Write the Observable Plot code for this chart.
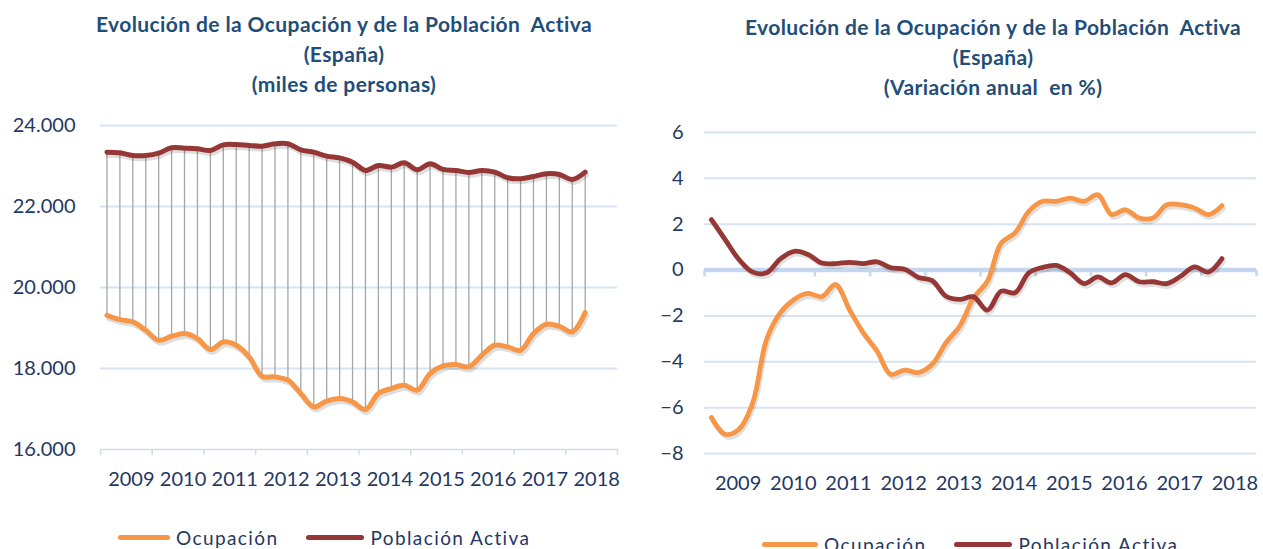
<!DOCTYPE html>
<html>
<head>
<meta charset="utf-8">
<script src="https://cdn.jsdelivr.net/npm/d3@7"></script>
<script src="https://cdn.jsdelivr.net/npm/@observablehq/plot@0.6"></script>
<style>
  html, body { margin: 0; padding: 0; background: #fff; }
  body { width: 1263px; height: 549px; position: relative; overflow: hidden; font-family: Lato, "Open Sans", sans-serif; }
  .title { position: absolute; text-align: center; color: #1f4e79; font-weight: bold; font-size: 21px; letter-spacing: 0.4px; line-height: 30px; white-space: nowrap; }
  .plot { position: absolute; }
  .legend { position: absolute; display: flex; align-items: center; color: #1f3864; font-size: 19px; letter-spacing: 1.4px; white-space: nowrap; }
  .sw { display: inline-block; height: 5px; border-radius: 3px; margin-right: 6px; }
</style>
</head>
<body>
<div class="title" id="t1" style="left:44px;width:600px;top:9px;"></div>
<div class="title" id="t2" style="left:693px;width:600px;top:12px;"></div>
<div class="plot" id="p1" style="left:0;top:100px;"></div>
<div class="plot" id="p2" style="left:640px;top:100px;"></div>
<div class="legend" id="l1" style="left:118px;top:526px;"></div>
<div class="legend" id="l2" style="left:762px;top:533px;"></div>
<script>
// ---- Data (quarterly, 2009T1 .. 2018T2) ----
const quarters = [
  "2009T1","2009T2","2009T3","2009T4","2010T1","2010T2","2010T3","2010T4",
  "2011T1","2011T2","2011T3","2011T4","2012T1","2012T2","2012T3","2012T4",
  "2013T1","2013T2","2013T3","2013T4","2014T1","2014T2","2014T3","2014T4",
  "2015T1","2015T2","2015T3","2015T4","2016T1","2016T2","2016T3","2016T4",
  "2017T1","2017T2","2017T3","2017T4","2018T1","2018T2"
];
// miles de personas
const ocupacionMiles = [
  19313,19207,19150,18944,18697,18796,18862,18738,
  18467,18656,18574,18286,17809,17793,17711,17382,
  17053,17193,17258,17176,16987,17382,17505,17587,
  17464,17875,18064,18097,18040,18328,18574,18533,
  18450,18862,19092,19042,18902,19380
];
const activaMiles = [
  23342,23325,23260,23260,23318,23450,23440,23425,
  23383,23523,23530,23507,23490,23548,23548,23400,
  23342,23243,23200,23095,22890,23013,22972,23080,
  22907,23055,22915,22890,22840,22890,22850,22710,
  22685,22742,22808,22790,22668,22850
];
// variación anual en %
const ocupacionVar = [
  -6.43,-7.16,-6.94,-5.78,-3.02,-1.86,-1.28,-1.02,
  -1.16,-0.63,-1.72,-2.73,-3.53,-4.55,-4.36,-4.47,
  -4.11,-3.17,-2.44,-1.21,-0.49,1.18,1.62,2.56,
  3.00,3.00,3.14,3.00,3.29,2.42,2.63,2.27,
  2.27,2.85,2.85,2.71,2.42,2.81
];
const activaVar = [
  2.20,1.33,0.46,-0.09,-0.12,0.49,0.82,0.68,
  0.31,0.28,0.34,0.28,0.36,0.10,0.04,-0.32,
  -0.46,-1.14,-1.28,-1.17,-1.75,-0.92,-0.99,-0.12,
  0.12,0.20,-0.12,-0.59,-0.30,-0.56,-0.20,-0.51,
  -0.51,-0.59,-0.27,0.14,-0.09,0.50
];
const yearLabels = ["2009","2010","2011","2012","2013","2014","2015","2016","2017","2018"];
const leftYTicks = [16000, 18000, 20000, 22000, 24000];
const rightYTicks = [-8, -6, -4, -2, 0, 2, 4, 6];
const seriesNames = ["Ocupación", "Población Activa"];
const titleLeft = ["Evolución de la Ocupación y de la Población&nbsp; Activa", "(España)", "(miles de personas)"];
const titleRight = ["Evolución de la Ocupación y de la Población&nbsp; Activa", "(España)", "(Variación anual&nbsp; en %)"];

// ---- Styles ----
const ORANGE = "#f79646";
const DARKRED = "#953735";
const GRID = "#d7e3f1";
const TEXT = "#1f3864";

// position of a quarter on a continuous year axis (category centre)
const qx = q => +q.slice(0, 4) + (+q.slice(5) - 0.5) / 4;
const rowsL = quarters.map((q, i) => ({x: qx(q), ocup: ocupacionMiles[i], act: activaMiles[i]}));
const rowsR = quarters.map((q, i) => ({x: qx(q), ocup: ocupacionVar[i], act: activaVar[i]}));
const bounds = d3.range(+yearLabels[0], +yearLabels[yearLabels.length - 1] + 2);
const mids = yearLabels.map(y => +y + 0.5);
const fmtMiles = d => d3.format(",")(d).replace(/,/g, ".");

document.getElementById("t1").innerHTML = titleLeft.join("<br>");
document.getElementById("t2").innerHTML = titleRight.join("<br>");

const font = "Lato, 'Open Sans', sans-serif";

// ---- Left chart ----
const left = Plot.plot({
  width: 640, height: 400,
  marginLeft: 100, marginRight: 23, marginTop: 25, marginBottom: 51,
  style: {fontFamily: font, fontSize: "20px", color: TEXT, background: "transparent", overflow: "visible"},
  x: {domain: [bounds[0], bounds[bounds.length - 1]]},
  y: {domain: [leftYTicks[0], leftYTicks[leftYTicks.length - 1]]},
  marks: [
    Plot.gridY(leftYTicks.slice(1), {stroke: GRID, strokeOpacity: 1, strokeWidth: 2}),
    Plot.ruleY([leftYTicks[0]], {stroke: "#d3dbe6", strokeWidth: 1.5}),
    Plot.axisX(bounds, {tickSize: 6, tickFormat: () => "", label: null, stroke: "#d3dbe6", strokeWidth: 1.5}),
    Plot.axisX(mids, {tickSize: 0, tickPadding: 22, label: null, dx: 5, tickFormat: d => String(Math.floor(d)), fontSize: 20, fill: TEXT}),
    Plot.axisY(leftYTicks, {tickSize: 0, tickPadding: 25, label: null, tickFormat: fmtMiles, fontSize: 20, fill: TEXT}),
    Plot.ruleX(rowsL, {x: "x", y1: "ocup", y2: "act", stroke: "#a6a6a6", strokeWidth: 1.3}),
    Plot.line(rowsL, {x: "x", y: "ocup", curve: "catmull-rom", stroke: "#000", strokeOpacity: 0.13, strokeWidth: 5, dx: 1.5, dy: 3}),
    Plot.line(rowsL, {x: "x", y: "act", curve: "catmull-rom", stroke: "#000", strokeOpacity: 0.13, strokeWidth: 5, dx: 1.5, dy: 3}),
    Plot.line(rowsL, {x: "x", y: "ocup", curve: "catmull-rom", stroke: ORANGE, strokeWidth: 5}),
    Plot.line(rowsL, {x: "x", y: "act", curve: "catmull-rom", stroke: DARKRED, strokeWidth: 5})
  ]
});
document.getElementById("p1").append(left);

// ---- Right chart ----
const right = Plot.plot({
  width: 623, height: 400,
  marginLeft: 64, marginRight: 7, marginTop: 32, marginBottom: 47,
  style: {fontFamily: font, fontSize: "20px", color: TEXT, background: "transparent", overflow: "visible"},
  x: {domain: [bounds[0], bounds[bounds.length - 1]]},
  y: {domain: [rightYTicks[0], rightYTicks[rightYTicks.length - 1]]},
  marks: [
    Plot.gridY(rightYTicks.filter(d => d !== 0), {stroke: GRID, strokeOpacity: 1, strokeWidth: 2}),
    Plot.ruleY([0], {stroke: "#c5d7ee", strokeWidth: 4.5}),
    Plot.ruleX(bounds, {x: d => d, y1: 0, y2: -0.3, stroke: "#c5d7ee", strokeWidth: 2.5}),
    Plot.axisX(mids, {tickSize: 0, tickPadding: 22, label: null, dx: 6, tickFormat: d => String(Math.floor(d)), fontSize: 20, fill: TEXT}),
    Plot.axisY(rightYTicks, {tickSize: 0, tickPadding: 21, label: null, fontSize: 20, fill: TEXT}),
    Plot.line(rowsR, {x: "x", y: "ocup", curve: "catmull-rom", stroke: "#000", strokeOpacity: 0.12, strokeWidth: 4.5, dx: 1.5, dy: 3}),
    Plot.line(rowsR, {x: "x", y: "act", curve: "catmull-rom", stroke: "#000", strokeOpacity: 0.12, strokeWidth: 4.5, dx: 1.5, dy: 3}),
    Plot.line(rowsR, {x: "x", y: "ocup", curve: "catmull-rom", stroke: ORANGE, strokeWidth: 4.8}),
    Plot.line(rowsR, {x: "x", y: "act", curve: "catmull-rom", stroke: DARKRED, strokeWidth: 4.8})
  ]
});
document.getElementById("p2").append(right);

// ---- Legends ----
function legend(id, w1, gap, w2) {
  const el = document.getElementById(id);
  el.innerHTML =
    `<span class="sw" style="width:${w1}px;background:${ORANGE}"></span><span>${seriesNames[0]}</span>` +
    `<span style="display:inline-block;width:${gap}px"></span>` +
    `<span class="sw" style="width:${w2}px;background:${DARKRED}"></span><span>${seriesNames[1]}</span>`;
}
legend("l1", 52, 28, 58);
legend("l2", 56, 28, 58);
</script>
</body>
</html>
